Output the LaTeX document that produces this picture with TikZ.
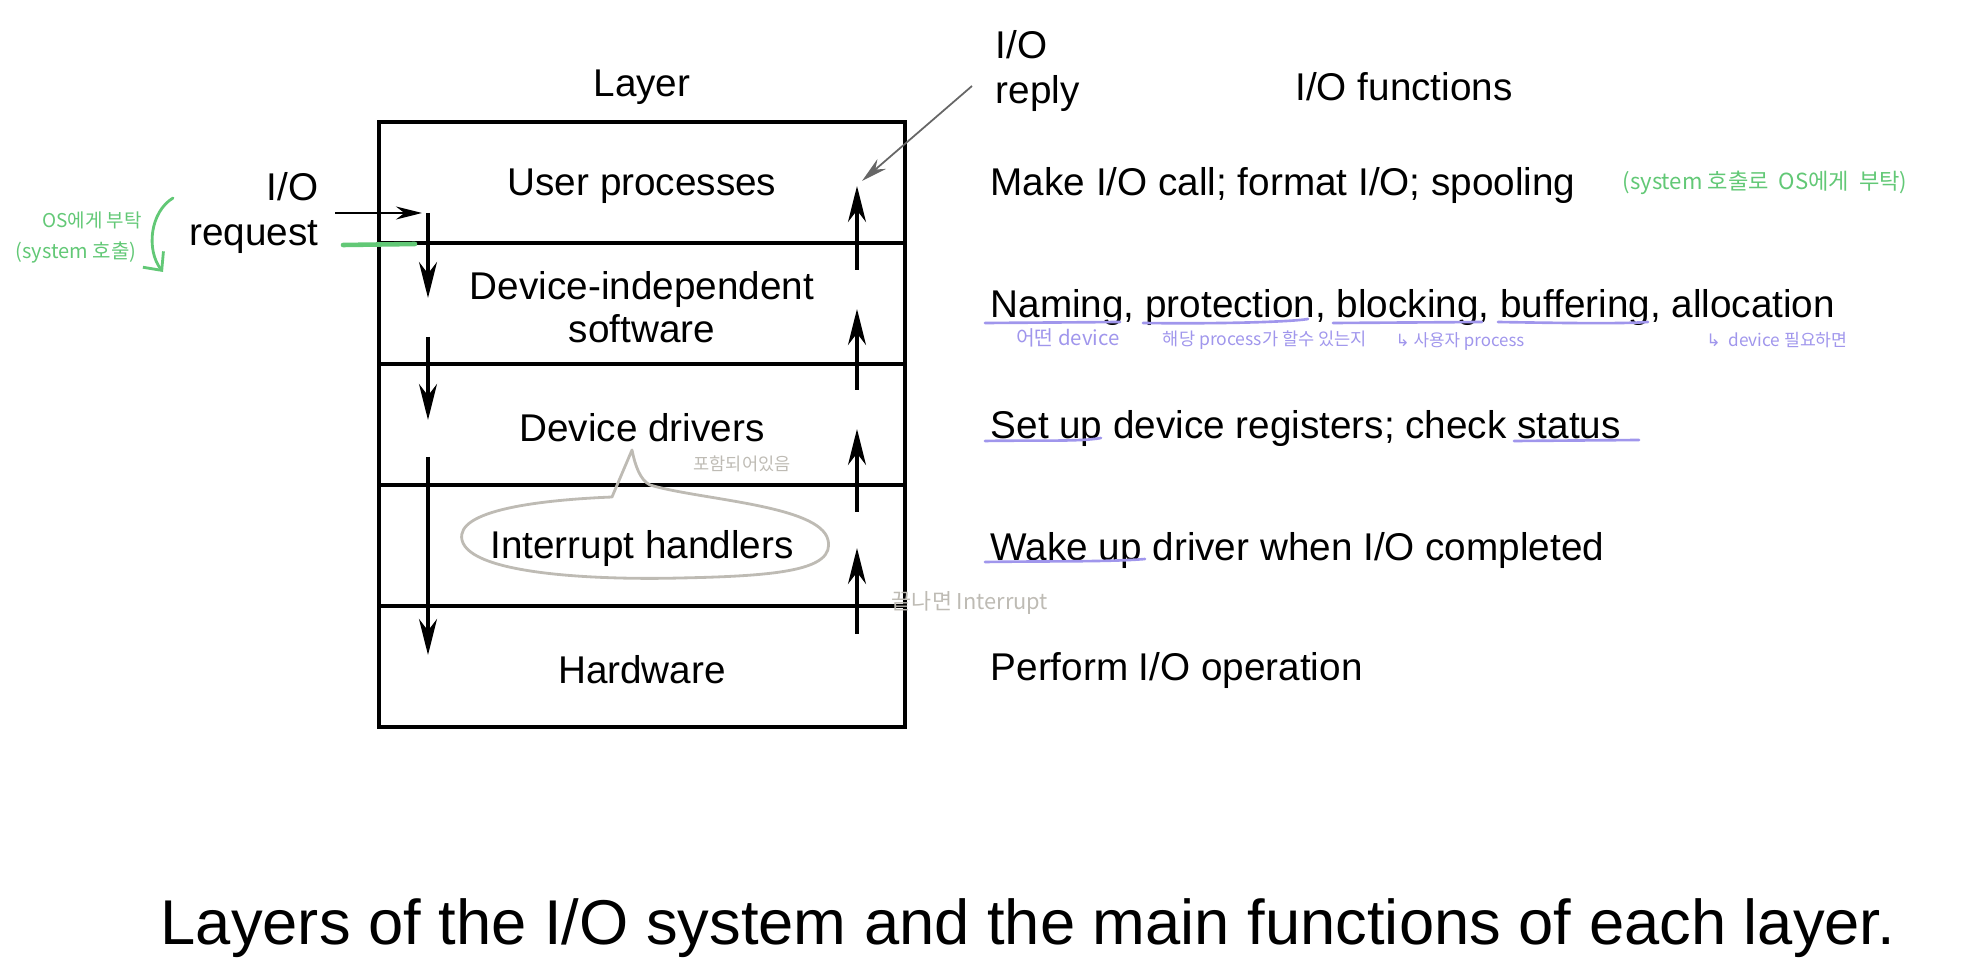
\documentclass[tikz,border=0pt]{standalone}
\usepackage{fontspec}
\setmainfont{Liberation Sans}
\newfontfamily\krfont{Noto Sans CJK KR}
\newfontfamily\symfont{DejaVu Sans}
\usetikzlibrary{arrows.meta}
\usepackage{xcolor}
\definecolor{notegreen}{RGB}{98,200,118}
\definecolor{notepurple}{RGB}{160,150,236}
\definecolor{notegray}{RGB}{190,187,180}

\begin{document}
\begin{tikzpicture}[
    x=0.01cm, y=-0.01cm,
    layer/.style={rectangle, draw, line width=1.1pt, minimum width=5.26cm, minimum height=1.21cm, inner sep=0pt},
    lname/.style={inner sep=0pt, align=center, font=\fontsize{11}{12.4}\selectfont},
    func/.style={anchor=west, inner sep=0pt, font=\fontsize{11}{13}\selectfont},
    head/.style={inner sep=0pt, font=\fontsize{11}{12.6}\selectfont},
    arr/.style={-{Stealth[length=3.6mm,width=1.8mm]}, line width=0.95pt},
    thinarr/.style={-{Stealth[length=2.6mm,width=1.3mm]}, line width=0.6pt},
    note/.style={inner sep=0pt, font=\krfont\fontsize{#1}{#1}\selectfont},
    note/.default=6pt,
    mark line/.style={line width=0.75pt, line cap=round, notepurple}
]
\useasboundingbox (0,0) rectangle (1962,973);

% Headers
\node[head] (layerhd) at (642,87) {Layer};
\node[head] (funchd) at (1404,87) {I/O functions};

% Layers
\node[layer] (user) at (642,182.5) {};
\node[layer] (indep) at (642,303.5) {};
\node[layer] (drv) at (642,424.5) {};
\node[layer] (irq) at (642,545.5) {};
\node[layer] (hw) at (642,666.5) {};

% Layer names (set a little below the row centres)
\node[lname] (userlbl) at (642,186) {User processes};
\node[lname] (indeplbl) at (642,307) {Device-independent\\software};
\node[lname] (drvlbl) at (642,428) {Device drivers};
\node[lname] (irqlbl) at (642,549) {Interrupt handlers};
\node[lname] (hwlbl) at (642,670) {Hardware};

% Functions of each layer
\node[func] (f1) at (990,186) {Make I/O call; format I/O; spooling};
\node[func] (f2) at (990,307) {Naming, protection, blocking, buffering, allocation};
\node[func] (f3) at (990,428) {Set up device registers; check status};
\node[func] (f4) at (990,550) {Wake up driver when I/O completed};
\node[func] (f5) at (990,670) {Perform I/O operation};

% Request / reply labels
\node[head, anchor=east, align=right] (req) at (319,213) {I/O\\request};
\node[head, anchor=west, align=left] (rep) at (995,71) {I/O\\reply};

% Caption
\node[inner sep=0pt, font=\fontsize{18}{22}\selectfont] (cap) at (1028,928)
    {Layers of the I/O system and the main functions of each layer.};

% -- Arrow ends --
\coordinate (reqs) at (335,213);
\coordinate (reqe) at (422,213);
\coordinate (reps) at (972,86);
\coordinate (repe) at (862,181);
\coordinate (d1s) at (428,213); \coordinate (d1e) at (428,298);
\coordinate (d2s) at (428,337); \coordinate (d2e) at (428,420);
\coordinate (d3s) at (428,457); \coordinate (d3e) at (428,655);
\coordinate (u1s) at (857,270); \coordinate (u1e) at (857,186);
\coordinate (u2s) at (857,390); \coordinate (u2e) at (857,309);
\coordinate (u3s) at (857,512); \coordinate (u3e) at (857,429);
\coordinate (u4s) at (857,634); \coordinate (u4e) at (857,548);

% -- Arrows --
\draw[thinarr] (reqs) -- (reqe);
\draw[thinarr, black!60, line width=0.5pt] (reps) -- (repe);
\draw[arr] (d1s) -- (d1e);
\draw[arr] (d2s) -- (d2e);
\draw[arr] (d3s) -- (d3e);
\draw[arr] (u1s) -- (u1e);
\draw[arr] (u2s) -- (u2e);
\draw[arr] (u3s) -- (u3e);
\draw[arr] (u4s) -- (u4e);

% -- Green notes --
\node[note=5.4pt, text=notegreen] (os) at (92,220) {OS에게 부탁};
\node[note=5.7pt, text=notegreen] (sys) at (76,253) {(system 호출)};
\node[note=6.3pt, text=notegreen] (sysr) at (1765,183) {(system 호출로 \ OS에게 \ 부탁)};
\coordinate (ga) at (173,198);
\coordinate (gb) at (163,272);
\draw[notegreen, line width=0.8pt, line cap=round, -{Straight Barb[length=1.4mm,width=2.6mm]}]
    (ga) .. controls (150,212) and (146,250) .. (gb);
\draw[notegreen, line width=1.3pt, line cap=round] (343,245) -- (415,244);

% -- Purple notes --
\draw[mark line] (985,323) -- (1120,322);
\draw[mark line] (1143,323) .. controls (1220,324) and (1290,322) .. (1308,319);
\draw[mark line] (1333,323) -- (1482,322);
\draw[mark line] (1498,322) .. controls (1560,323) and (1620,324) .. (1648,322);
\draw[mark line] (985,441) .. controls (1030,440) and (1080,442) .. (1101,438);
\draw[mark line] (1514,441) -- (1639,440);
\draw[mark line] (985,562) .. controls (1050,561) and (1110,562) .. (1145,559);
\node[note=5.8pt, text=notepurple] (n1) at (1068,338) {어떤 device};
\node[note=5pt, text=notepurple] (n2) at (1265,340) {해당 process가 할수 있는지};
\node[note=4.8pt, text=notepurple] (n3) at (1460,341) {{\symfont ↳} 사용자 process};
\node[note=4.9pt, text=notepurple] (n4) at (1777,340) {{\symfont ↳} \ device 필요하면};

% -- Gray notes --
\draw[notegray, line width=0.8pt, line join=round]
    (632,450) -- (612,497) .. controls (540,500) and (455,510) .. (462,540)
    .. controls (470,575) and (600,580) .. (680,578)
    .. controls (780,576) and (835,570) .. (828,540)
    .. controls (820,505) and (700,500) .. (650,485)
    .. controls (640,480) and (635,465) .. cycle;
\node[note=5pt, text=notegray] (g1) at (742,464) {포함되어있음};
\node[note=6.2pt, text=notegray] (g2) at (970,603) {끝나면 Interrupt};

\end{tikzpicture}
\end{document}
